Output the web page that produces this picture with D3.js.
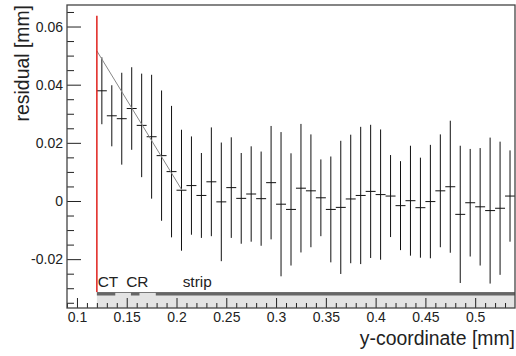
<!DOCTYPE html>
<html>
<head>
<meta charset="utf-8">
<script src="https://cdn.jsdelivr.net/npm/d3@7"></script>
<style>
  body { margin: 0; background: #fff; }
  svg { display: block; font-family: "Liberation Sans", Arial, Helvetica, sans-serif; }
  .tick text { fill: #222; }
</style>
</head>
<body>
<div id="chart"></div>
<script>
// bin centres [mm]
const binCenters = [0.125, 0.135, 0.145, 0.155, 0.165, 0.175, 0.185, 0.195, 0.205, 0.215,
    0.225, 0.235, 0.245, 0.255, 0.265, 0.275, 0.285, 0.295, 0.305, 0.315,
    0.325, 0.335, 0.345, 0.355, 0.365, 0.375, 0.385, 0.395, 0.405, 0.415,
    0.425, 0.435, 0.445, 0.455, 0.465, 0.475, 0.485, 0.495, 0.505, 0.515,
    0.525, 0.535]
const binWidth = 0.01
const residuals = [0.0379, 0.0293, 0.0283, 0.0318, 0.0260, 0.0221, 0.0156, 0.0101, 0.0037, 0.0053,
    0.0019, 0.0066, -0.0003, 0.0046, 0.0009, 0.0024, 0.0008, 0.0063, -0.0011, -0.0029,
    0.0044, 0.0035, 0.0011, -0.0029, -0.0022, 0.0007, 0.0019, 0.0033, 0.0022, 0.0017,
    -0.0016, 0.0001, -0.0023, -0.0002, 0.0035, 0.0049, -0.0046, -0.0006, -0.0020, -0.0033,
    -0.0025, 0.0017]
const errors = [0.0115, 0.0105, 0.0158, 0.0142, 0.0178, 0.0213, 0.0224, 0.0226, 0.0208, 0.0169,
    0.0146, 0.0187, 0.0204, 0.0173, 0.0156, 0.0164, 0.0162, 0.0195, 0.0248, 0.0193,
    0.0221, 0.0194, 0.0132, 0.0182, 0.0229, 0.0221, 0.0236, 0.0229, 0.0224, 0.0141,
    0.0153, 0.0189, 0.0172, 0.0195, 0.0194, 0.0227, 0.0236, 0.0185, 0.0202, 0.0251,
    0.0229, 0.0157]

// fitted slope (start, end)
const fitLine = [[0.12, 0.0516], [0.2055, 0.0037]]
// edge of sensitive region
const edgeX = 0.12
const edgeTop = 0.0637

// regions drawn in the band at the bottom
const regionNames = ["CT", "CR", "strip"]
const regionFrom = [0.12, 0.1542, 0.1792]
const regionTo = [0.1385, 0.1628, 0.54]
const regionLabelAt = [0.1208, 0.1494, 0.2062]
const bandTop = -0.0313

const xMajor = [0.1, 0.15, 0.2, 0.25, 0.3, 0.35, 0.4, 0.45, 0.5]
const xMinor = [0.09, 0.11, 0.12, 0.13, 0.14, 0.16, 0.17, 0.18, 0.19, 0.21, 0.22, 0.23, 0.24,
    0.26, 0.27, 0.28, 0.29, 0.31, 0.32, 0.33, 0.34, 0.36, 0.37, 0.38, 0.39, 0.41, 0.42, 0.43,
    0.44, 0.46, 0.47, 0.48, 0.49, 0.51, 0.52, 0.53]
const yMajor = [-0.02, 0, 0.02, 0.04, 0.06]
const yMinor = [-0.035, -0.03, -0.025, -0.015, -0.01, -0.005, 0.005, 0.01, 0.015,
    0.025, 0.03, 0.035, 0.045, 0.05, 0.055, 0.065]

const W = 516, H = 356
const margin = { top: 5, right: 1, bottom: 48, left: 67 }
const width = W - margin.left - margin.right
const height = H - margin.top - margin.bottom

const svg = d3.select("#chart").append("svg")
    .attr("width", W)
    .attr("height", H)
const g = svg.append("g")
    .attr("transform", `translate(${margin.left},${margin.top})`)

const x = d3.scaleLinear().domain([0.09, 0.54]).range([0, width])
const y = d3.scaleLinear().domain([-0.0368, 0.0674]).range([height, 0])

const regions = regionNames.map((n, i) => ({ name: n, from: regionFrom[i], to: regionTo[i], at: regionLabelAt[i] }))

// bottom band
g.append("rect")
    .attr("x", x(regionFrom[0]))
    .attr("y", y(bandTop))
    .attr("width", x(0.54) - x(regionFrom[0]))
    .attr("height", y(y.domain()[0]) - y(bandTop))
    .attr("fill", "#e3e3e3")
g.append("line")
    .attr("x1", x(regionFrom[0])).attr("x2", x(0.54))
    .attr("y1", y(bandTop) + 0.5).attr("y2", y(bandTop) + 0.5)
    .attr("stroke", "#777")
g.selectAll(".region")
    .data(regions)
    .enter().append("line")
    .attr("class", "region")
    .attr("x1", d => x(d.from)).attr("x2", d => x(d.to))
    .attr("y1", y(bandTop) + 2).attr("y2", y(bandTop) + 2)
    .attr("stroke", "#666")
    .attr("stroke-width", 3)
g.selectAll(".region-label")
    .data(regions)
    .enter().append("text")
    .attr("class", "region-label")
    .attr("x", d => x(d.at))
    .attr("y", y(bandTop) - 5)
    .style("font-size", "15.4px")
    .attr("fill", "#222")
    .text(d => d.name)

// error bars
const pts = binCenters.map((c, i) => ({ c: c, v: residuals[i], e: errors[i] }))
g.append("g")
    .selectAll("line")
    .data(pts)
    .enter().append("line")
    .attr("x1", d => x(d.c)).attr("x2", d => x(d.c))
    .attr("y1", d => y(d.v + d.e)).attr("y2", d => y(d.v - d.e))
    .attr("stroke", "#111")
    .attr("stroke-width", 1)
g.append("g")
    .selectAll("line")
    .data(pts)
    .enter().append("line")
    .attr("x1", d => x(d.c - binWidth / 2)).attr("x2", d => x(d.c + binWidth / 2))
    .attr("y1", d => y(d.v)).attr("y2", d => y(d.v))
    .attr("stroke", "#111")
    .attr("stroke-width", 1)

// fit
g.append("path")
    .datum(fitLine)
    .attr("d", d3.line().x(d => x(d[0])).y(d => y(d[1])))
    .attr("fill", "none")
    .attr("stroke", "#888")
    .attr("stroke-width", 1)

// red edge line
g.append("line")
    .attr("x1", x(edgeX)).attr("x2", x(edgeX))
    .attr("y1", y(edgeTop)).attr("y2", y(bandTop))
    .attr("stroke", "#e0201c")
    .attr("stroke-width", 1.5)

// axes, ticks pointing inwards
const fs = "14px"
const yAxis = g.append("g")
    .call(d3.axisLeft(y).tickValues(yMajor).tickSize(-14).tickPadding(4)
        .tickFormat(d => d == 0 ? "0" : d.toFixed(2)))
yAxis.select(".domain").remove()
yAxis.selectAll("text").style("font-size", fs)
const yMinorAxis = g.append("g")
    .call(d3.axisLeft(y).tickValues(yMinor).tickSize(-7).tickFormat(""))
yMinorAxis.select(".domain").remove()

const xAxis = g.append("g")
    .attr("transform", `translate(0,${height})`)
    .call(d3.axisBottom(x).tickValues(xMajor).tickSize(-10).tickPadding(4)
        .tickFormat(d => String(d)))
xAxis.select(".domain").remove()
xAxis.selectAll("text").style("font-size", fs)
const xMinorAxis = g.append("g")
    .attr("transform", `translate(0,${height})`)
    .call(d3.axisBottom(x).tickValues(xMinor).tickSize(-5).tickFormat(""))
xMinorAxis.select(".domain").remove()
g.selectAll(".tick line").attr("stroke", "#222")

// frame
g.append("rect")
    .attr("x", 0).attr("y", 0)
    .attr("width", width).attr("height", height)
    .attr("fill", "none")
    .attr("stroke", "#444")
    .attr("stroke-width", 1.3)

// axis titles
g.append("text")
    .attr("x", width)
    .attr("y", height + 37)
    .attr("text-anchor", "end")
    .style("font-size", "19.4px")
    .attr("fill", "#222")
    .text("y-coordinate [mm]")

g.append("text")
    .attr("transform", "rotate(-90)")
    .attr("x", 0)
    .attr("y", -38)
    .attr("text-anchor", "end")
    .style("font-size", "19.4px")
    .attr("fill", "#222")
    .text("residual [mm]")
</script>
</body>
</html>
